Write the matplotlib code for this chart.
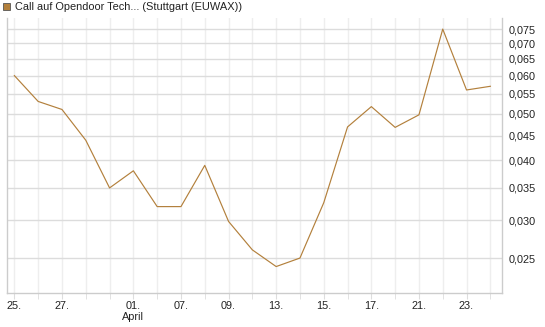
import matplotlib
matplotlib.use("Agg")
import matplotlib.pyplot as plt
from matplotlib.ticker import FixedLocator, NullLocator, FuncFormatter, NullFormatter
from matplotlib.patches import Rectangle

# values (one point per trading day)
prices = [0.060, 0.053, 0.051, 0.044, 0.035, 0.038, 0.032, 0.032, 0.039, 0.0298,
          0.026, 0.024, 0.025, 0.0326, 0.0469, 0.0517, 0.0468, 0.0497, 0.075, 0.056,
          0.057]
tick_idx = [0, 2, 5, 7, 9, 11, 13, 15, 17, 19]
tick_labels = ["25.", "27.", "01.\nApril", "07.", "09.", "13.", "15.", "17.", "21.", "23."]
y_ticks = [0.025, 0.030, 0.035, 0.040, 0.045, 0.050, 0.055, 0.060, 0.065, 0.070, 0.075]
title = "Call auf Opendoor Tech... (Stuttgart (EUWAX))"

line_color = "#b3803c"
plt.rcParams['font.family'] = ['Liberation Sans', 'DejaVu Sans']

fig = plt.figure(figsize=(5.45, 3.27), dpi=100)
W, H = 545, 327
ax = fig.add_axes([7 / W, 1 - 293 / H, (502 - 7) / W, (293 - 18) / H])

ax.plot(range(len(prices)), prices, color=line_color, lw=0.85)
ax.set_yscale("log")
ax.set_xlim(-0.31, 20.49)
ax.set_ylim(0.02114, 0.0791)

ax.yaxis.set_major_locator(FixedLocator(y_ticks))
ax.yaxis.set_minor_locator(NullLocator())
ax.yaxis.set_minor_formatter(NullFormatter())
ax.yaxis.set_major_formatter(FuncFormatter(lambda v, p: f"{v:.3f}".replace(".", ",")))
ax.yaxis.tick_right()
ax.tick_params(axis="y", length=0, pad=5, labelsize=7.8, colors="#222222")

ax.set_xticks(tick_idx)
ax.set_xticklabels(tick_labels, linespacing=1.05)
ax.set_xticks(range(len(prices)), minor=True)
ax.tick_params(axis="x", which="both", length=4, color="#dddddd", pad=2,
               labelsize=7.8, labelcolor="#222222")

ax.grid(axis="y", which="major", color="#dcdcdc", lw=1.0)
ax.grid(axis="x", which="minor", color="#eeeeee", lw=1.0)
ax.grid(axis="x", which="major", color="#eeeeee", lw=1.0)
ax.set_axisbelow(True)

for side in ["left", "bottom", "right"]:
    ax.spines[side].set_color("#cccccc")
    ax.spines[side].set_linewidth(1.0)
ax.spines["top"].set_visible(False)

# legend-like header
fig.patches.append(Rectangle((3 / W, 1 - 10 / H), 7 / W, 7 / H, transform=fig.transFigure,
                             facecolor=line_color, edgecolor="#555555", lw=0.6))
fig.text(15 / W, 1 - 6.5 / H, title, fontsize=7.9, va="center", ha="left", color="#222222")

fig.savefig("out.png", dpi=100)
